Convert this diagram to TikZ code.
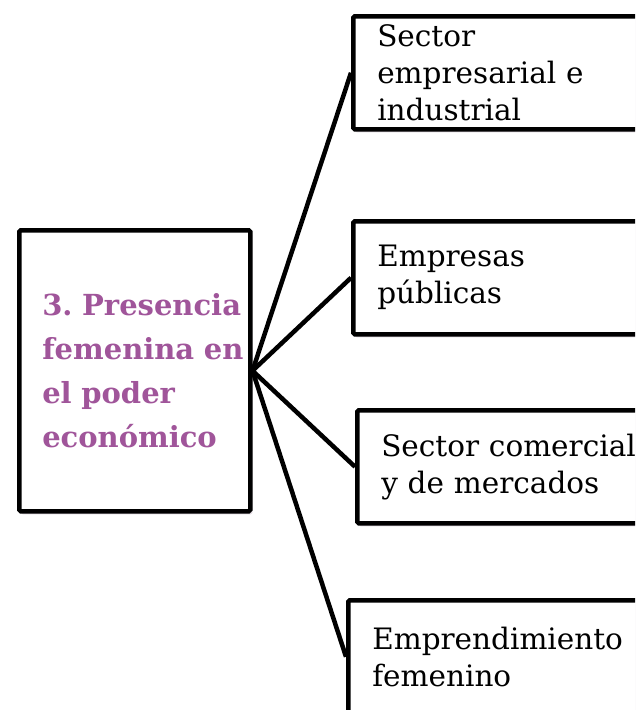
\documentclass[tikz,border=0pt]{standalone}
\usepackage{fontspec}
\setmainfont{DejaVu Serif}
\usetikzlibrary{shadows}
\definecolor{a0559a}{HTML}{A0559A}
\definecolor{8a6a8a}{HTML}{8A6A8A}

\begin{document}
\begin{tikzpicture}[x=1pt,y=-1pt,line width=4.5pt,
  box/.style={draw,rounded corners=1.5pt,fill=white,drop shadow={shadow xshift=2pt,shadow yshift=-3pt,opacity=.25,fill=8a6a8a}},
  sub/.style={box,anchor=north west,minimum height=113pt,text width=300pt,inner xsep=24pt,align=left,font=\fontsize{29.5}{37}\selectfont}]
\useasboundingbox(0,0)rectangle(635,710);
\clip(0,0)rectangle(635,710);
\node[box,anchor=north west,minimum width=231pt,minimum height=281pt,text width=185pt,inner xsep=23pt,align=left,text=a0559a,font=\bfseries\fontsize{29}{44}\selectfont](main)at(17,228){\mbox{3.\ Presencia}\\\mbox{femenina en}\\\mbox{el poder}\\\mbox{económico}};
\node[sub](s1)at(351,14){Sector\\empresarial e\\industrial};
\node[sub](s2)at(351,219){Empresas\\públicas};
\node[sub](s3)at(355,408){Sector comercial\\y de mercados};
\node[sub](s4)at(346,598){Emprendimiento\\femenino};
\foreach \i in {1,...,4} {
        \draw(main.east)--(s\i.west);
    }
\end{tikzpicture}
\end{document}
